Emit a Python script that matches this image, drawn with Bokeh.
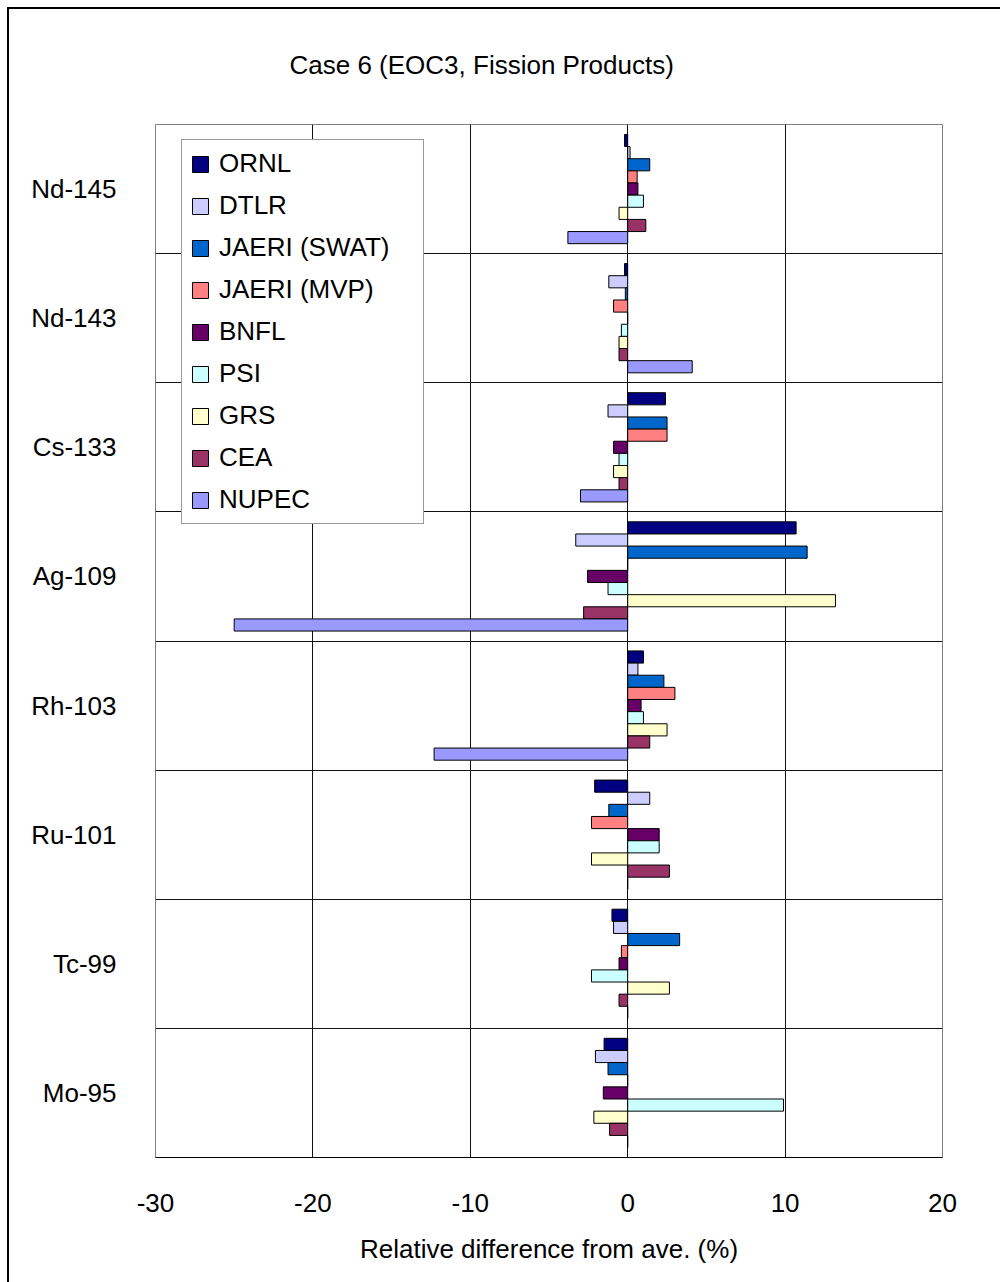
from bokeh.plotting import figure
from bokeh.models import FactorRange, Range1d, FixedTicker, Legend, PrintfTickFormatter
from bokeh.transform import dodge
from bokeh.embed import file_html
from bokeh.resources import INLINE

categories = ["Nd-145", "Nd-143", "Cs-133", "Ag-109", "Rh-103", "Ru-101", "Tc-99", "Mo-95"]
series_names = ["ORNL", "DTLR", "JAERI (SWAT)", "JAERI (MVP)", "BNFL", "PSI", "GRS", "CEA", "NUPEC"]
ornl = [-0.2, -0.2, 2.4, 10.7, 1.0, -2.1, -1.0, -1.5]
dtlr = [0.15, -1.2, -1.25, -3.3, 0.65, 1.4, -0.9, -2.05]
jaeri_swat = [1.4, -0.15, 2.5, 11.4, 2.3, -1.2, 3.3, -1.25]
jaeri_mvp = [0.6, -0.9, 2.5, 0.0, 3.0, -2.3, -0.4, 0.0]
bnfl = [0.65, 0.0, -0.9, -2.55, 0.85, 2.0, -0.55, -1.55]
psi = [1.0, -0.4, -0.55, -1.25, 1.0, 2.0, -2.3, 9.9]
grs = [-0.55, -0.55, -0.9, 13.2, 2.5, -2.3, 2.65, -2.15]
cea = [1.15, -0.55, -0.55, -2.8, 1.4, 2.65, -0.55, -1.15]
nupec = [-3.8, 4.1, -3.0, -25.0, -12.3, 0.0, 0.0, 0.0]
x_ticks = [-30, -20, -10, 0, 10, 20]

series_values = [ornl, dtlr, jaeri_swat, jaeri_mvp, bnfl, psi, grs, cea, nupec]
colors = ["#000080", "#CCCCFF", "#0066CC", "#FF8080", "#660066", "#CCFFFF", "#FFFFCC", "#993366", "#9999FF"]

FONT = "Liberation Sans"

p = figure(
    y_range=FactorRange(factors=list(reversed(categories)), range_padding=0, factor_padding=0),
    x_range=Range1d(-30, 20),
    frame_width=787, frame_height=1033,
    min_border_left=155, min_border_right=58, min_border_top=124, min_border_bottom=125,
    output_backend="svg", toolbar_location=None,
    title="Case 6 (EOC3, Fission Products)",
)
p.styles = {"box-shadow": "inset 7px 7px 0 0 #ffffff, inset 9px 9px 0 0 #000000",
            "background-color": "#ffffff"}

bar_h = 0.094
n = len(series_names)
items = []
for i, (name, vals, col) in enumerate(zip(series_names, series_values, colors)):
    off = ((n - 1) / 2 - i) * bar_h
    r = p.hbar(y=dodge("cat", off, range=p.y_range), left=0, right="v", height=bar_h,
               source=dict(cat=categories, v=vals),
               fill_color=col, line_color="#000000", line_width=1)
    items.append((name, [r]))

legend = Legend(items=items, location=(26, 633))
legend.label_text_font = FONT
legend.label_text_font_size = "26px"
legend.label_text_color = "#000000"
legend.glyph_width = 20
legend.glyph_height = 20
legend.label_height = 31
legend.label_standoff = 9
legend.label_width = 196
legend.spacing = 11
legend.padding = 8
legend.margin = 0
legend.border_line_color = "#333333"
legend.border_line_width = 1
legend.background_fill_color = "#FFFFFF"
legend.background_fill_alpha = 1
p.add_layout(legend)

# title
p.title.text_font = FONT
p.title.text_font_size = "26px"
p.title.text_font_style = "normal"
p.title.text_color = "#000000"
p.title.align = "left"
p.title.offset = 134
p.title.standoff = 89

# grid
p.xgrid.ticker = FixedTicker(ticks=x_ticks)
p.xgrid.grid_line_color = "#111111"
p.xgrid.grid_line_width = 1
p.ygrid.ticker = FixedTicker(ticks=list(range(1, len(categories))))
p.ygrid.grid_line_color = "#111111"
p.ygrid.grid_line_width = 1

p.outline_line_color = "#808080"
p.outline_line_width = 1

# x axis
p.xaxis.ticker = FixedTicker(ticks=x_ticks)
p.xaxis.formatter = PrintfTickFormatter(format="%d")
p.xaxis.axis_label = "Relative difference from ave. (%)"
p.xaxis.axis_label_text_font = FONT
p.xaxis.axis_label_text_font_size = "26px"
p.xaxis.axis_label_text_font_style = "normal"
p.xaxis.axis_label_text_color = "#000000"
p.xaxis.axis_label_standoff = 19
p.xaxis.major_label_text_font = FONT
p.xaxis.major_label_text_font_size = "26px"
p.xaxis.major_label_text_color = "#000000"
p.xaxis.major_label_standoff = 36
p.xaxis.major_tick_out = 0
p.xaxis.major_tick_in = 0
p.xaxis.minor_tick_out = 0
p.xaxis.axis_line_color = "#000000"

# y axis
p.yaxis.major_label_text_font = FONT
p.yaxis.major_label_text_font_size = "26px"
p.yaxis.major_label_text_color = "#000000"
p.yaxis.major_label_standoff = 39
p.yaxis.major_tick_out = 0
p.yaxis.major_tick_in = 0
p.yaxis.axis_line_color = None

p.background_fill_color = "#FFFFFF"
p.border_fill_color = "#FFFFFF"
p.border_fill_alpha = 0

open("out.html", "w").write(file_html(p, INLINE))
